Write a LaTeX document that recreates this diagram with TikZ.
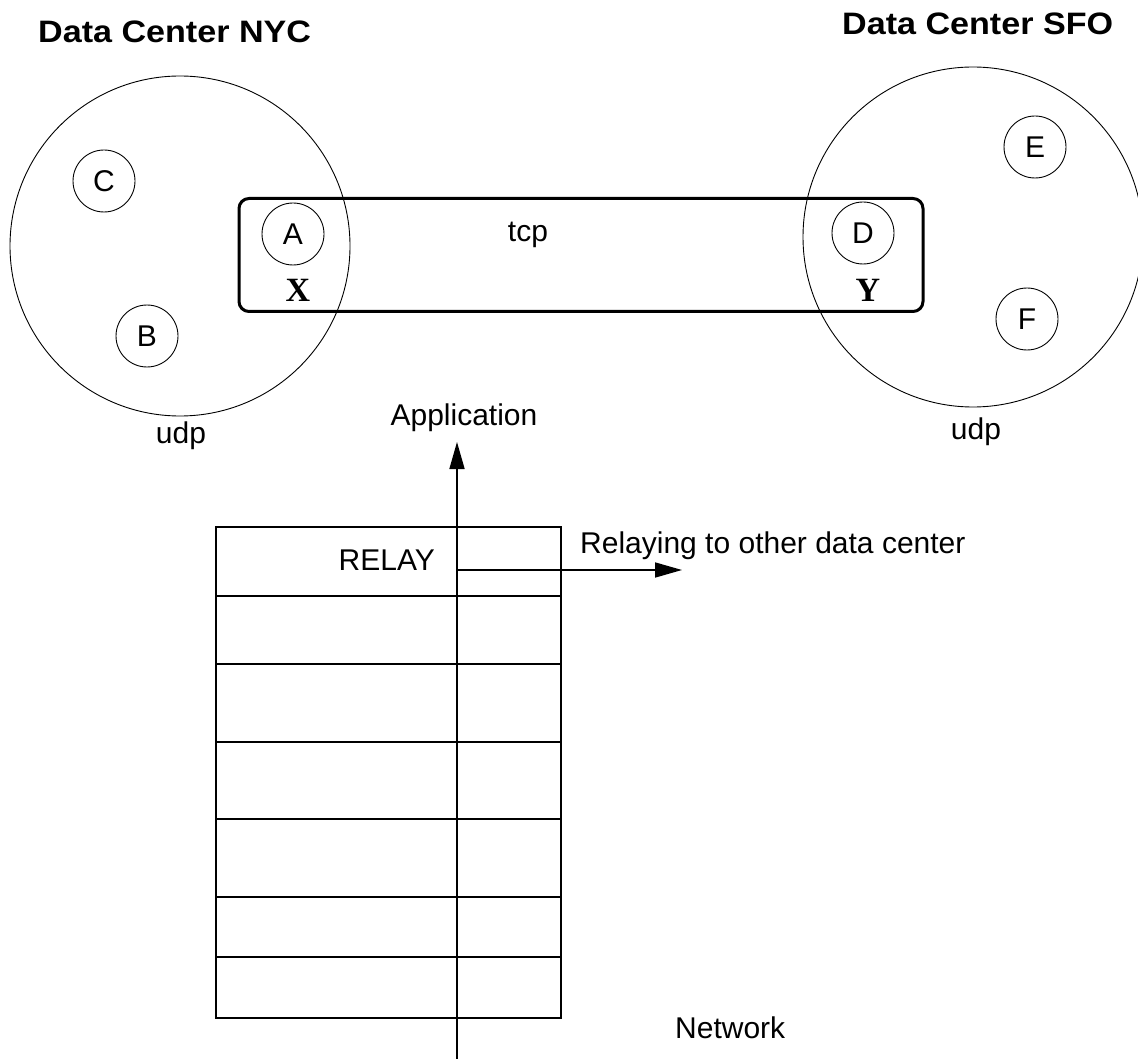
\documentclass[tikz,border=0pt]{standalone}
\usepackage{fontspec}
\setmainfont{Liberation Sans}
\newfontfamily\titlefont{Liberation Sans}[FakeStretch=1.1]
\newfontfamily\tagfont{Liberation Serif}
\usetikzlibrary{arrows.meta}

\begin{document}
\begin{tikzpicture}[x=1pt,y=-1pt,
  txt/.style={font=\fontsize{30}{34}\selectfont, inner sep=0pt},
  title/.style={font=\titlefont\fontsize{31}{36}\selectfont\bfseries, inner sep=0pt},
  tag/.style={font=\tagfont\bfseries\fontsize{34}{40}\selectfont, inner sep=0pt},
  zone/.style={circle, draw, line width=0.9pt, minimum size=340pt, inner sep=0pt},
  host/.style={circle, draw, line width=0.9pt, minimum size=62pt, inner sep=0pt,
               font=\fontsize{30}{34}\selectfont},
  link/.style={draw, line width=3pt, rounded corners=10pt, inner sep=0pt},
  layer/.style={line width=2pt},
  flow/.style={line width=1.6pt, -{Triangle[length=27pt,width=15pt]}}
]
\clip (0,0) rectangle (1138,1059);

% data centers
\node[title, anchor=base west] (nyctitle) at (38,43) {Data Center NYC};
\node[title, anchor=base west] (sfotitle) at (842,35) {Data Center SFO};
\node[zone] (nyc) at (180,246) {};
\node[zone] (sfo) at (973,237) {};
\node[txt, anchor=base] (nycudp) at (181,443) {udp};
\node[txt, anchor=base] (sfoudp) at (976,439) {udp};

% hosts
\node[host] (C) at (104,181) {C};
\node[host] (B) at (147,336) {B};
\node[host] (A) at (293,234) {A};
\node[host] (D) at (863,233) {D};
\node[host] (E) at (1035,147) {E};
\node[host] (F) at (1027,319) {F};

% tcp link between the relay hosts
\node[link, minimum width=684pt, minimum height=113pt] (tcpbox) at (581,255) {};
\node[txt, anchor=base] (tcp) at (528,242) {tcp};
\node[tag, anchor=base] (X) at (298,302) {X};
\node[tag, anchor=base] (Y) at (868,302) {Y};

% protocol stack
\draw[layer] (216,527) rectangle (561,1018);
\foreach \yy in {596,664,742,819,897,957}
  \draw[layer] (216,\yy) -- (561,\yy);
\node[txt, anchor=base east] (relay) at (435,570) {RELAY};

% message paths
\coordinate (netin) at (457,1062);
\coordinate (apptip) at (457,442);
\coordinate (fork) at (457,570);
\coordinate (relaytip) at (682,570);
\draw[flow] (netin) -- (apptip);
\draw[flow] (fork) -- (relaytip);
\node[txt, anchor=base] (app) at (464,425) {Application};
\node[txt, anchor=base west] (relaying) at (580,553) {Relaying to other data center};
\node[txt, anchor=base west] (net) at (675,1038) {Network};
\end{tikzpicture}
\end{document}
